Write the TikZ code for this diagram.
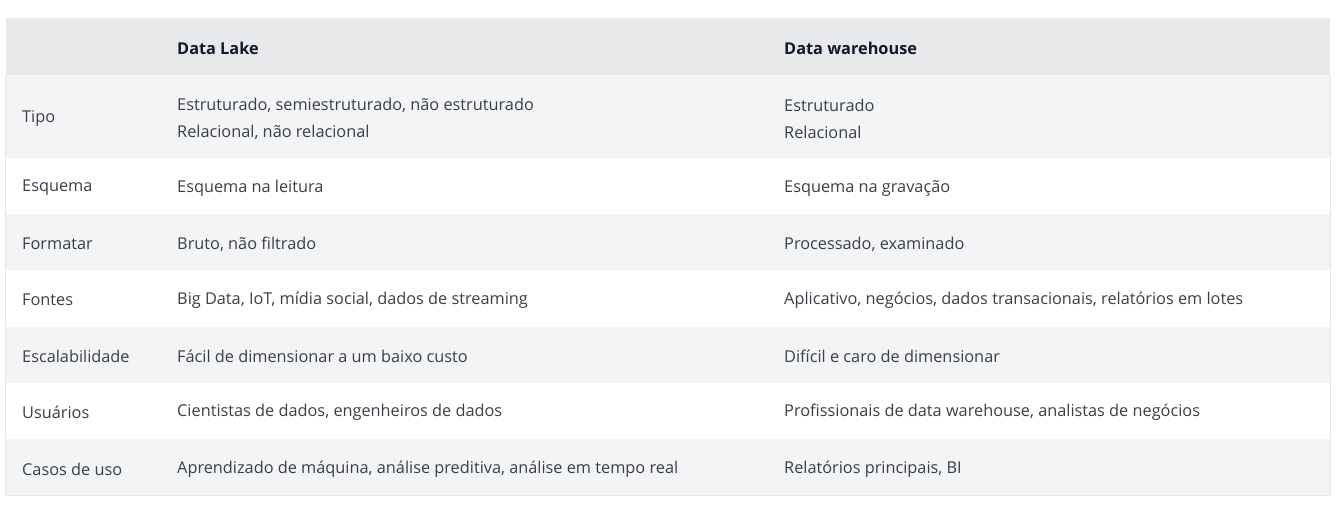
\documentclass[tikz,border=0pt]{standalone}
\usepackage{fontspec}
\setmainfont{Open Sans}
\definecolor{headbg}{HTML}{E8E9EB}
\definecolor{stripe}{HTML}{F3F4F6}
\definecolor{framecol}{HTML}{E5E7EB}
\definecolor{celltext}{HTML}{3A3F47}
\definecolor{headtext}{HTML}{111827}
\tikzset{
  cell/.style={anchor=west, inner sep=0pt, text=celltext, align=left,
    font=\fontsize{16.3}{27}\selectfont},
  headcell/.style={cell, text=headtext, font=\fontsize{16.3}{27}\selectfont\bfseries},
}

\begin{document}
\begin{tikzpicture}[x=1pt,y=-1pt]
\useasboundingbox (0,0) rectangle (1342,517);
% row backgrounds
\fill[headbg] (6,18) rectangle (1330,75);
\fill[stripe] (6,75) rectangle (1330,158);
\fill[stripe] (6,214) rectangle (1330,270);
\fill[stripe] (6,327) rectangle (1330,383);
\fill[stripe] (6,439) rectangle (1330,495);
\draw[framecol, line width=1.5pt] (5.5,75) -- (5.5,495.5) -- (1330.5,495.5) -- (1330.5,75);

% header
\node[headcell] (lake) at (177,48) {Data Lake};
\node[headcell] (warehouse) at (784,48) {Data warehouse};

% rows
\node[cell] (tipo) at (22,118.5) {Tipo};
\node[cell] (tipolake) at (177,118.5) {Estruturado, semiestruturado, não estruturado\\Relacional, não relacional};
\node[cell] (tipowh) at (784,118.5) {Estruturado\\Relacional};

\node[cell] (esquema) at (22,188) {Esquema};
\node[cell] (esquemalake) at (177,188) {Esquema na leitura};
\node[cell] (esquemawh) at (784,188) {Esquema na gravação};

\node[cell] (formatar) at (22,244) {Formatar};
\node[cell] (formatarlake) at (177,244) {Bruto, não filtrado};
\node[cell] (formatarwh) at (784,244) {Processado, examinado};

\node[cell] (fontes) at (22,300) {Fontes};
\node[cell] (fonteslake) at (177,300) {Big Data, IoT, mídia social, dados de streaming};
\node[cell] (fonteswh) at (784,300) {Aplicativo, negócios, dados transacionais, relatórios em lotes};

\node[cell] (escala) at (22,356.5) {Escalabilidade};
\node[cell] (escalalake) at (177,356.5) {Fácil de dimensionar a um baixo custo};
\node[cell] (escalawh) at (784,356.5) {Difícil e caro de dimensionar};

\node[cell] (usuarios) at (22,412.5) {Usuários};
\node[cell] (usuarioslake) at (177,412.5) {Cientistas de dados, engenheiros de dados};
\node[cell] (usuarioswh) at (784,412.5) {Profissionais de data warehouse, analistas de negócios};

\node[cell] (casos) at (22,469) {Casos de uso};
\node[cell] (casoslake) at (177,469) {Aprendizado de máquina, análise preditiva, análise em tempo real};
\node[cell] (casoswh) at (784,469) {Relatórios principais, BI};
\end{tikzpicture}
\end{document}
